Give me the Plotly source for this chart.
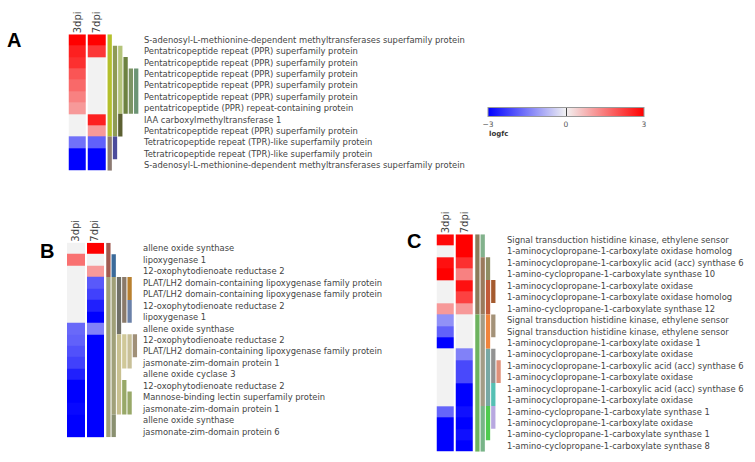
import plotly.graph_objects as go

# ---------------- DATA ----------------
cols = ["3dpi", "7dpi"]

a_genes = [
    "S-adenosyl-L-methionine-dependent methyltransferases superfamily protein",
    "Pentatricopeptide repeat (PPR) superfamily protein",
    "Pentatricopeptide repeat (PPR) superfamily protein",
    "Pentatricopeptide repeat (PPR) superfamily protein",
    "Pentatricopeptide repeat (PPR) superfamily protein",
    "Pentatricopeptide repeat (PPR) superfamily protein",
    "pentatricopeptide (PPR) repeat-containing protein",
    "IAA carboxylmethyltransferase 1",
    "Pentatricopeptide repeat (PPR) superfamily protein",
    "Tetratricopeptide repeat (TPR)-like superfamily protein",
    "Tetratricopeptide repeat (TPR)-like superfamily protein",
    "S-adenosyl-L-methionine-dependent methyltransferases superfamily protein",
]
a_3dpi = [3.0, 2.6, 2.4, 1.95, 1.7, 1.4, 1.1, 0, 0, -1.6, -3.0, -3.0]
a_7dpi = [3.0, 2.3, 0, 0, 0, 0, 0, 2.6, 1.1, -1.8, -3.0, -3.0]
a_clu_level = [0, 0, 1, 1, 2, 2, 3, 4, 5]
a_clu_start = [0, 9, 1, 9, 1, 7, 2, 3, 3]
a_clu_end = [8, 11, 8, 10, 6, 8, 6, 6, 6]

b_genes = [
    "allene oxide synthase",
    "lipoxygenase 1",
    "12-oxophytodienoate reductase 2",
    "PLAT/LH2 domain-containing lipoxygenase family protein",
    "PLAT/LH2 domain-containing lipoxygenase family protein",
    "12-oxophytodienoate reductase 2",
    "lipoxygenase 1",
    "allene oxide synthase",
    "12-oxophytodienoate reductase 2",
    "PLAT/LH2 domain-containing lipoxygenase family protein",
    "jasmonate-zim-domain protein 1",
    "allene oxide cyclase 3",
    "12-oxophytodienoate reductase 2",
    "Mannose-binding lectin superfamily protein",
    "jasmonate-zim-domain protein 1",
    "allene oxide synthase",
    "jasmonate-zim-domain protein 6",
]
b_3dpi = [0, 1.6, 0, 0, 0, 0, 0, -1.7, -1.8, -2.0, -2.2, -2.6, -3.0, -3.0, -2.9, -3.0, -3.0]
b_7dpi = [3.0, 0, 1.1, -1.9, -2.2, -2.6, -3.0, -1.4, -3.0, -3.0, -3.0, -3.0, -3.0, -3.0, -3.0, -3.0, -3.0]
b_clu_level = [0, 0, 1, 1, 1, 2, 2, 3, 3, 3, 4, 4, 4, 4, 5]
b_clu_start = [0, 3, 1, 3, 15, 3, 8, 3, 8, 12, 3, 5, 8, 13, 8]
b_clu_end = [2, 16, 2, 14, 16, 7, 14, 6, 10, 14, 4, 6, 10, 14, 9]

c_genes = [
    "Signal transduction histidine kinase, ethylene sensor",
    "1-aminocyclopropane-1-carboxylate oxidase homolog",
    "1-aminocyclopropane-1-carboxylic acid (acc) synthase 6",
    "1-amino-cyclopropane-1-carboxylate synthase 10",
    "1-aminocyclopropane-1-carboxylate oxidase",
    "1-aminocyclopropane-1-carboxylate oxidase homolog",
    "1-amino-cyclopropane-1-carboxylate synthase 12",
    "Signal transduction histidine kinase, ethylene sensor",
    "Signal transduction histidine kinase, ethylene sensor",
    "1-aminocyclopropane-1-carboxylate oxidase 1",
    "1-aminocyclopropane-1-carboxylate oxidase",
    "1-aminocyclopropane-1-carboxylic acid (acc) synthase 6",
    "1-aminocyclopropane-1-carboxylate oxidase",
    "1-aminocyclopropane-1-carboxylic acid (acc) synthase 6",
    "1-aminocyclopropane-1-carboxylate oxidase",
    "1-amino-cyclopropane-1-carboxylate synthase 1",
    "1-aminocyclopropane-1-carboxylate oxidase",
    "1-amino-cyclopropane-1-carboxylate synthase 1",
    "1-amino-cyclopropane-1-carboxylate synthase 8",
]
c_3dpi = [2.9, 0, 2.8, 3.0, 0, 0, 1.1, -1.2, -1.8, -3.0, 0, 0, 0, 0, 0, -1.75, -3.0, -3.0, -3.0]
c_7dpi = [3.0, 3.0, 2.4, 1.4, 2.8, 2.2, 1.1, 0, 0, 0, -1.4, -2.1, -2.1, -3.0, -3.0, -2.8, -3.0, -2.8, -3.0]
c_clu_level = [0, 0, 1, 1, 1, 1, 2, 2, 2, 2, 2, 3, 3, 3, 3, 3, 4]
c_clu_start = [0, 7, 0, 2, 7, 15, 2, 4, 7, 10, 15, 4, 7, 10, 13, 15, 11]
c_clu_end = [6, 18, 1, 6, 14, 18, 3, 6, 9, 14, 17, 5, 8, 12, 14, 16, 12]

# ---------------- STYLE ----------------
a_clu_color = ["#b4c02c", "#8c7a72", "#8e9a56", "#4c4c9c", "#b4c47a", "#5c6032",
               "#6c8240", "#7c9464", "#6c9474"]
b_clu_color = ["#a05a50", "#a0a078", "#3a6a9a", "#a0a078", "#8a9070", "#707068",
               "#c8c090", "#8a7a6a", "#d0c898", "#98a868", "#b88030", "#6a80a8",
               "#c8c098", "#98a868", "#a09078"]
c_clu_color = ["#8b7b5b", "#6db35f", "#82b28c", "#9a7a5c", "#a39c86", "#78b488",
               "#8e8e64", "#c25a38", "#f0843c", "#78a8a4", "#4fcb4f",
               "#a45a2e", "#a49278", "#929292", "#56c0b4", "#b8a8e0", "#e0907a"]

W, H = 755, 462
FONT = "DejaVu Sans"
TXT = "#444444"

fig = go.Figure()
layout_axes = {}


def add_panel(idx, genes, v3, v7, lev, st, en, colors, x0px, x1px, y0px, y1px, cell_px):
    xa = "x" if idx == 1 else f"x{idx}"
    ya = "y" if idx == 1 else f"y{idx}"
    n = len(genes)
    z = [[a, b] for a, b in zip(v3, v7)]
    fig.add_trace(go.Heatmap(
        z=z, x=[0, 1], y=list(range(n)), coloraxis="coloraxis",
        xgap=2, ygap=0, xaxis=xa, yaxis=ya,
        customdata=[[g, g] for g in genes],
        hovertemplate="%{customdata}<br>%{z:.2f}<extra></extra>",
    ))
    first = 1.5 + 3.4 / cell_px
    step = 5.3 / cell_px
    bw = 4.3 / cell_px
    fig.add_trace(go.Bar(
        x=[first + step * l for l in lev],
        base=[s - 0.5 for s in st],
        y=[e - s + 1 for s, e in zip(st, en)],
        width=bw, marker=dict(color=colors, line=dict(width=0)),
        xaxis=xa, yaxis=ya, hoverinfo="skip", showlegend=False,
    ))
    xkey = "xaxis" if idx == 1 else f"xaxis{idx}"
    ykey = "yaxis" if idx == 1 else f"yaxis{idx}"
    layout_axes[xkey] = dict(
        domain=[x0px / W, x1px / W],
        range=[-0.5, -0.5 + (x1px - x0px) / cell_px],
        side="top", tickvals=[0, 1], ticktext=cols, tickangle=-90,
        showgrid=False, zeroline=False, showline=False, ticks="",
        tickfont=dict(family=FONT, size=10, color=TXT),
        anchor=ya, fixedrange=True, automargin=False,
    )
    layout_axes[ykey] = dict(
        domain=[1 - y1px / H, 1 - y0px / H],
        range=[n - 0.5, -0.5],
        side="right", tickvals=list(range(n)), ticktext=genes,
        showgrid=False, zeroline=False, showline=False, ticks="",
        ticklabelstandoff=3,
        tickfont=dict(family=FONT, size=8.4, color=TXT),
        anchor=xa, fixedrange=True, automargin=False,
    )


add_panel(1, a_genes, a_3dpi, a_7dpi, a_clu_level, a_clu_start, a_clu_end, a_clu_color,
          67.7, 140, 34.3, 170.7, 19.3)
add_panel(2, b_genes, b_3dpi, b_7dpi, b_clu_level, b_clu_start, b_clu_end, b_clu_color,
          66, 139, 242.7, 437.3, 19.5)
add_panel(3, c_genes, c_3dpi, c_7dpi, c_clu_level, c_clu_start, c_clu_end, c_clu_color,
          435.7, 503, 234.3, 451.7, 19.15)

letter_font = dict(family="Liberation Sans", size=20, color="#000")
fig.update_layout(
    width=W, height=H, margin=dict(l=0, r=0, t=0, b=0, autoexpand=False),
    paper_bgcolor="white", plot_bgcolor="white",
    barmode="overlay", showlegend=False,
    font=dict(family=FONT, color=TXT),
    coloraxis=dict(
        cmin=-3, cmax=3,
        colorscale=[[0, "#0000ff"], [0.5, "#f2f2f2"], [1, "#ff0000"]],
        colorbar=dict(
            orientation="h", x=566 / W, xanchor="center",
            y=1 - 123 / H, yanchor="middle",
            len=156 / W, lenmode="fraction", thickness=9,
            tickvals=[-3, 0, 3], ticks="inside", ticklen=9,
            tickcolor="#444444", tickwidth=1,
            outlinewidth=1, outlinecolor="#999999",
            tickfont=dict(family=FONT, size=7.5, color="#555555"),
            xpad=0, ypad=0, title=dict(text=""),
        ),
    ),
    annotations=[
        dict(text="<b>A</b>", x=14 / W, y=1 - 40 / H, xref="paper", yref="paper",
             xanchor="center", yanchor="middle", showarrow=False, font=letter_font),
        dict(text="<b>B</b>", x=47 / W, y=1 - 251 / H, xref="paper", yref="paper",
             xanchor="center", yanchor="middle", showarrow=False, font=letter_font),
        dict(text="<b>C</b>", x=414 / W, y=1 - 241 / H, xref="paper", yref="paper",
             xanchor="center", yanchor="middle", showarrow=False, font=letter_font),
        dict(text="<b>logfc</b>", x=487 / W, y=1 - 134 / H, xref="paper", yref="paper",
             xanchor="left", yanchor="middle", showarrow=False,
             font=dict(family=FONT, size=7, color="#333")),
    ],
    **layout_axes,
)

fig.write_html("out.html", config={"displayModeBar": False},
               post_script="document.body.style.margin='0';")
